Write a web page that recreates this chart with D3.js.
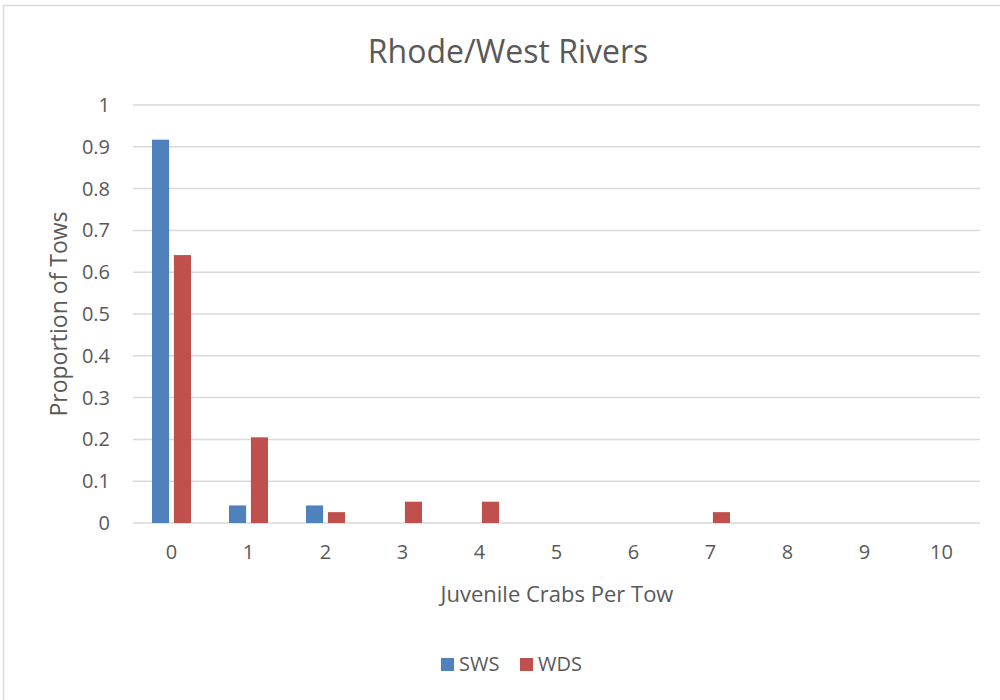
<!DOCTYPE html>
<html>
<head>
<meta charset="utf-8">
<script src="https://cdn.jsdelivr.net/npm/d3@7"></script>
<style>
  body { margin: 0; background: #fff; }
  text { font-family: "Open Sans", "Liberation Sans", sans-serif; fill: #595959; }
</style>
</head>
<body>
<svg id="chart" width="1000" height="700"></svg>
<script>
const categories = ["0", "1", "2", "3", "4", "5", "6", "7", "8", "9", "10"];
const swsValues = [0.917, 0.042, 0.042, 0, 0, 0, 0, 0, 0, 0, 0];
const wdsValues = [0.641, 0.205, 0.026, 0.051, 0.051, 0, 0, 0.026, 0, 0, 0];
const seriesNames = ["SWS", "WDS"];
const seriesColors = ["#4f81bd", "#c0504d"];
const yTicks = [0, 0.1, 0.2, 0.3, 0.4, 0.5, 0.6, 0.7, 0.8, 0.9, 1];

const svg = d3.select("#chart");
const margin = { left: 133, right: 20, top: 105, bottom: 177 };
const width = 1000 - margin.left - margin.right;
const height = 700 - margin.top - margin.bottom;

// chart frame
svg.append("rect")
  .attr("x", 3.5).attr("y", 5.5)
  .attr("width", 1010).attr("height", 710)
  .attr("fill", "#fff").attr("stroke", "#d9d9d9").attr("stroke-width", 1.5);

const g = svg.append("g").attr("transform", `translate(${margin.left},${margin.top})`);

const x = d3.scaleBand().domain(categories).range([0, width]);
const xInner = d3.scaleBand().domain(seriesNames).range([19, x.bandwidth() - 19]).paddingInner(0.22);
const y = d3.scaleLinear().domain([0, 1]).range([height, 0]);

// gridlines
g.selectAll(".grid")
  .data(yTicks)
  .join("line")
  .attr("x1", 0).attr("x2", width)
  .attr("y1", d => y(d)).attr("y2", d => y(d))
  .attr("stroke", "#d9d9d9").attr("stroke-width", 1.5);

// y tick labels
const yAxis = g.append("g")
  .call(d3.axisLeft(y).tickValues(yTicks).tickFormat(d3.format("")).tickSize(0).tickPadding(23));
yAxis.select(".domain").remove();
yAxis.selectAll("text").style("font-size", "20px").attr("fill", "#595959");

// x tick labels
const xAxis = g.append("g")
  .attr("transform", `translate(0,${height})`)
  .call(d3.axisBottom(x).tickSize(0).tickPadding(22));
xAxis.select(".domain").remove();
xAxis.selectAll("text").style("font-size", "20px").attr("fill", "#595959");

// bars
const rows = categories.map((c, i) => ({ cat: c, vals: [swsValues[i], wdsValues[i]] }));
const groups = g.selectAll(".bar-group")
  .data(rows)
  .join("g")
  .attr("transform", d => `translate(${x(d.cat)},0)`);

groups.selectAll("rect")
  .data(d => d.vals.map((v, j) => ({ name: seriesNames[j], value: v, color: seriesColors[j] })))
  .join("rect")
  .filter(d => d.value > 0)
  .attr("x", d => xInner(d.name))
  .attr("width", xInner.bandwidth())
  .attr("y", d => y(d.value))
  .attr("height", d => height - y(d.value))
  .attr("fill", d => d.color);

// title
svg.append("text")
  .attr("x", 508).attr("y", 63)
  .attr("text-anchor", "middle")
  .style("font-size", "32px")
  .text("Rhode/West Rivers");

// axis titles
svg.append("text")
  .attr("transform", "translate(67,314) rotate(-90)")
  .attr("text-anchor", "middle")
  .style("font-size", "23px")
  .text("Proportion of Tows");

svg.append("text")
  .attr("x", 557).attr("y", 602)
  .attr("text-anchor", "middle")
  .style("font-size", "22px")
  .text("Juvenile Crabs Per Tow");

// legend
const legendX = [441, 520];
const legend = svg.selectAll(".legend")
  .data(seriesNames)
  .join("g")
  .attr("transform", (d, i) => `translate(${legendX[i]},658)`);
legend.append("rect")
  .attr("width", 13).attr("height", 13)
  .attr("fill", (d, i) => seriesColors[i]);
legend.append("text")
  .attr("x", 18).attr("y", 13)
  .style("font-size", "20px")
  .text(d => d);
</script>
</body>
</html>
